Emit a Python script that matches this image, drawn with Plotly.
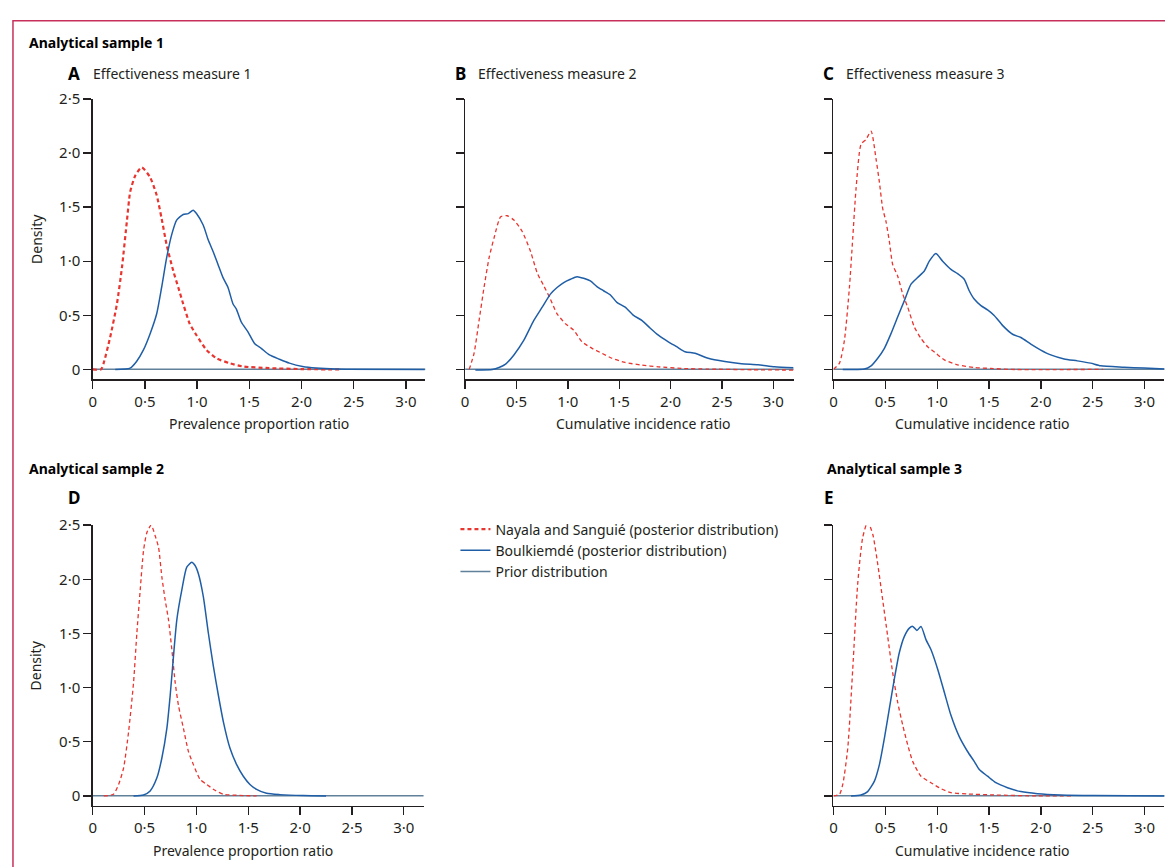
import plotly.graph_objects as go

# ---------------- data ----------------
tick_vals_x = [0, 0.5, 1.0, 1.5, 2.0, 2.5, 3.0]
tick_text_x = ["0", "0·5", "1·0", "1·5", "2·0", "2·5", "3·0"]
tick_vals_y = [0, 0.5, 1.0, 1.5, 2.0, 2.5]
tick_text_y = ["0", "0·5", "1·0", "1·5", "2·0", "2·5"]

series_names = ["Nayala and Sanguié (posterior distribution)",
                "Boulkiemdé (posterior distribution)",
                "Prior distribution"]

# Panel A – effectiveness measure 1 (prevalence proportion ratio)
a_red_x = [0.0, 0.08, 0.105, 0.168, 0.232, 0.28, 0.327, 0.359, 0.407, 0.47, 0.55, 0.613, 0.66, 0.708,
           0.772, 0.82, 0.867, 0.93, 0.994, 1.09, 1.185, 1.31, 1.44, 1.69, 2.01, 2.36]
a_red_y = [0.0, 0.0, 0.058, 0.30, 0.605, 0.94, 1.365, 1.64, 1.79, 1.867, 1.775, 1.61, 1.395, 1.152,
           0.909, 0.757, 0.605, 0.42, 0.316, 0.18, 0.103, 0.058, 0.027, 0.012, 0.003, 0.0]
a_blue_x = [0.216, 0.359, 0.42, 0.486, 0.55, 0.613, 0.66, 0.708, 0.756, 0.804, 0.867, 0.915, 0.962,
            0.994, 1.058, 1.106, 1.153, 1.2, 1.248, 1.296, 1.344, 1.375, 1.423, 1.487, 1.55, 1.614,
            1.693, 1.789, 1.884, 2.01, 2.14, 2.33, 3.18]
a_blue_y = [0.0, 0.012, 0.073, 0.18, 0.33, 0.514, 0.757, 1.03, 1.243, 1.38, 1.432, 1.44, 1.471,
            1.44, 1.334, 1.198, 1.09, 0.97, 0.848, 0.757, 0.605, 0.56, 0.438, 0.347, 0.24, 0.195,
            0.134, 0.094, 0.058, 0.027, 0.012, 0.003, 0.0]

# Panel B – effectiveness measure 2 (cumulative incidence ratio)
b_red_x = [0.04, 0.087, 0.136, 0.184, 0.233, 0.281, 0.346, 0.41, 0.475, 0.556, 0.637, 0.701, 0.766,
           0.83, 0.895, 0.976, 1.057, 1.138, 1.235, 1.332, 1.429, 1.558, 1.72, 1.881, 2.107, 2.366,
           2.8, 3.197]
b_red_y = [0.0, 0.149, 0.453, 0.757, 1.03, 1.213, 1.41, 1.42, 1.38, 1.274, 1.09, 0.894, 0.772,
           0.65, 0.514, 0.423, 0.362, 0.255, 0.195, 0.149, 0.103, 0.064, 0.04, 0.024, 0.009, 0.003,
           -0.003, -0.006]
b_blue_x = [0.1, 0.265, 0.33, 0.394, 0.475, 0.572, 0.669, 0.75, 0.83, 0.895, 0.96, 1.025, 1.089,
            1.154, 1.219, 1.283, 1.348, 1.412, 1.477, 1.558, 1.639, 1.72, 1.8, 1.881, 1.978, 2.059,
            2.14, 2.237, 2.366, 2.528, 2.689, 2.851, 3.012, 3.197]
b_blue_y = [-0.005, 0.0, 0.018, 0.049, 0.134, 0.27, 0.453, 0.575, 0.696, 0.757, 0.803, 0.833, 0.857,
            0.842, 0.818, 0.766, 0.727, 0.69, 0.62, 0.575, 0.499, 0.453, 0.383, 0.316, 0.255, 0.21,
            0.164, 0.149, 0.103, 0.073, 0.052, 0.043, 0.024, 0.015]

# Panel C – effectiveness measure 3 (cumulative incidence ratio)
c_red_x = [0.0, 0.058, 0.106, 0.154, 0.186, 0.218, 0.266, 0.315, 0.363, 0.411, 0.443, 0.475, 0.507,
           0.539, 0.571, 0.619, 0.668, 0.716, 0.78, 0.844, 0.908, 0.988, 1.069, 1.197, 1.357, 1.518,
           1.71, 2.6]
c_red_y = [0.0, 0.058, 0.27, 0.757, 1.213, 1.67, 2.08, 2.126, 2.202, 1.943, 1.73, 1.487, 1.365,
           1.183, 0.97, 0.864, 0.696, 0.575, 0.392, 0.286, 0.21, 0.149, 0.088, 0.043, 0.018, 0.009,
           0.0, 0.0]
c_blue_x = [0.09, 0.298, 0.363, 0.427, 0.491, 0.555, 0.619, 0.684, 0.748, 0.812, 0.876, 0.924, 0.988,
            1.053, 1.133, 1.197, 1.261, 1.309, 1.357, 1.422, 1.486, 1.55, 1.63, 1.727, 1.807, 1.903,
            1.999, 2.095, 2.224, 2.352, 2.48, 2.577, 2.802, 2.994, 3.196]
c_blue_y = [0.0, 0.003, 0.033, 0.103, 0.195, 0.331, 0.484, 0.636, 0.788, 0.849, 0.909, 1.0, 1.07,
            1.0, 0.924, 0.885, 0.833, 0.727, 0.65, 0.59, 0.55, 0.499, 0.407, 0.325, 0.295, 0.234,
            0.179, 0.134, 0.097, 0.079, 0.058, 0.033, 0.021, 0.012, 0.003]

# Panel D – analytical sample 2 (prevalence proportion ratio)
d_red_x = [0.106, 0.2, 0.25, 0.298, 0.346, 0.394, 0.426, 0.458, 0.49, 0.522, 0.564, 0.603, 0.635,
           0.667, 0.699, 0.731, 0.763, 0.795, 0.827, 0.875, 0.923, 0.971, 1.035, 1.099, 1.179, 1.26,
           1.388, 1.58]
d_red_y = [0.0, 0.015, 0.106, 0.258, 0.592, 1.048, 1.504, 1.899, 2.263, 2.43, 2.5, 2.4, 2.294,
           2.02, 1.808, 1.625, 1.352, 1.048, 0.835, 0.623, 0.41, 0.289, 0.152, 0.106, 0.052, 0.015,
           0.006, 0.0]
d_blue_x = [0.394, 0.49, 0.554, 0.619, 0.667, 0.715, 0.747, 0.779, 0.811, 0.859, 0.907, 0.955, 0.987,
            1.019, 1.067, 1.115, 1.163, 1.212, 1.26, 1.324, 1.388, 1.452, 1.516, 1.58, 1.676, 1.804,
            2.029, 2.25]
d_blue_y = [0.0, 0.009, 0.046, 0.167, 0.35, 0.623, 0.927, 1.291, 1.625, 1.899, 2.111, 2.157, 2.127,
            2.051, 1.838, 1.504, 1.2, 0.927, 0.684, 0.44, 0.289, 0.182, 0.106, 0.061, 0.024, 0.012,
            0.003, 0.0]

# Panel E – analytical sample 3 (cumulative incidence ratio)
e_red_x = [0.0, 0.058, 0.09, 0.138, 0.186, 0.234, 0.282, 0.33, 0.379, 0.427, 0.475, 0.523, 0.571,
           0.619, 0.668, 0.716, 0.764, 0.844, 0.94, 1.037, 1.133, 1.293, 1.55, 1.967, 2.29]
e_red_y = [0.0, 0.015, 0.106, 0.44, 1.17, 1.96, 2.385, 2.53, 2.415, 2.14, 1.808, 1.473, 1.139,
           0.866, 0.653, 0.471, 0.319, 0.182, 0.122, 0.067, 0.03, 0.018, 0.009, 0.0, 0.0]
e_blue_x = [0.17, 0.266, 0.33, 0.395, 0.443, 0.491, 0.539, 0.587, 0.635, 0.684, 0.732, 0.764, 0.805,
            0.844, 0.892, 0.94, 1.005, 1.069, 1.133, 1.213, 1.293, 1.357, 1.406, 1.486, 1.566, 1.678,
            1.807, 1.967, 2.192, 2.513, 3.196]
e_blue_y = [0.0, 0.009, 0.04, 0.137, 0.289, 0.532, 0.805, 1.079, 1.322, 1.473, 1.549, 1.565, 1.528,
            1.565, 1.443, 1.352, 1.17, 0.957, 0.744, 0.547, 0.41, 0.319, 0.243, 0.182, 0.122, 0.076,
            0.04, 0.021, 0.009, 0.003, 0.0]

# Prior distribution (essentially flat near zero on this scale)
prior_x = [0.0, 0.5, 1.0, 1.5, 2.0, 2.5, 3.0, 3.2]
prior_y = [0.002, 0.002, 0.002, 0.002, 0.002, 0.002, 0.002, 0.002]

panel_letters = ["A", "B", "C", "D", "E"]
panel_titles = ["Effectiveness measure 1", "Effectiveness measure 2", "Effectiveness measure 3", "", ""]
x_titles = ["Prevalence proportion ratio", "Cumulative incidence ratio", "Cumulative incidence ratio",
            "Prevalence proportion ratio", "Cumulative incidence ratio"]
section_titles = ["Analytical sample 1", "Analytical sample 2", "Analytical sample 3"]

# ---------------- styling / layout ----------------
W, H = 1165, 867
FONT = "Noto Sans"
RED = "#e8352f"
BLUE = "#1f5ea6"
PRIOR = "#61809a"
AXC = "#231f20"

def px(x):
    return x / W

def py(y):
    return 1 - y / H

# (left px, right px, top px, bottom px, x max)
panels = [
    (89.0, 422.7, 89.0, 373.0, 3.185),
    (462.7, 792.3, 89.0, 373.0, 3.197),
    (832.3, 1164.3, 89.0, 373.0, 3.19),
    (89.0, 421.0, 520.7, 805.0, 3.19),
    (832.3, 1164.3, 520.7, 805.0, 3.19),
]
data = [
    (a_red_x, a_red_y, a_blue_x, a_blue_y),
    (b_red_x, b_red_y, b_blue_x, b_blue_y),
    (c_red_x, c_red_y, c_blue_x, c_blue_y),
    (d_red_x, d_red_y, d_blue_x, d_blue_y),
    (e_red_x, e_red_y, e_blue_x, e_blue_y),
]
red_widths = [2.2, 1.3, 1.3, 1.3, 1.3]
# (letter x, title x, y) in pixels
label_pos = [(64, 89, 63), (453, 476, 63), (822, 845, 63), (64, 0, 493), (823, 0, 493)]

fig = go.Figure()
layout = dict(
    width=W, height=H,
    margin=dict(l=0, r=0, t=0, b=0),
    paper_bgcolor="white", plot_bgcolor="white",
    font=dict(family=FONT, size=14, color=AXC),
    showlegend=True,
    legend=dict(x=px(453), y=py(509), xanchor="left", yanchor="top",
                bgcolor="rgba(0,0,0,0)", font=dict(size=14, family=FONT, color=AXC),
                tracegroupgap=0, itemwidth=30),
)

def note(x, y, text, size=14, color=AXC, xanchor="left", angle=0):
    return dict(x=px(x), y=py(y), xref="paper", yref="paper", xanchor=xanchor, yanchor="middle",
                text=text, showarrow=False, borderpad=0, borderwidth=0, textangle=angle,
                font=dict(size=size, family=FONT, color=color))

annotations = []
for i, ((l, r, t, b, xmax), (rx, ry, bx, by)) in enumerate(zip(panels, data)):
    k = "" if i == 0 else str(i + 1)
    xa, ya = "x" + k, "y" + k
    first = i == 0
    fig.add_trace(go.Scatter(x=prior_x, y=prior_y, xaxis=xa, yaxis=ya, mode="lines",
                             line=dict(color=PRIOR, width=1.5), name=series_names[2],
                             legendrank=3, showlegend=first, hoverinfo="skip"))
    fig.add_trace(go.Scatter(x=rx, y=ry, xaxis=xa, yaxis=ya, mode="lines",
                             line=dict(color=RED, width=red_widths[i], dash="4px,3px",
                                       shape="spline", smoothing=0.6),
                             name=series_names[0], legendrank=1, showlegend=first, hoverinfo="skip"))
    fig.add_trace(go.Scatter(x=bx, y=by, xaxis=xa, yaxis=ya, mode="lines",
                             line=dict(color=BLUE, width=1.5, shape="spline", smoothing=0.6),
                             name=series_names[1], legendrank=2, showlegend=first, hoverinfo="skip"))
    show_ylab = i in (0, 3)
    layout["xaxis" + k] = dict(
        domain=[px(l), px(r)], anchor=ya, range=[0, xmax],
        showline=True, linecolor=AXC, linewidth=1.4, mirror=False,
        ticks="outside", ticklen=8, tickwidth=1.3, tickcolor=AXC,
        tickvals=tick_vals_x, ticktext=tick_text_x, tickfont=dict(size=15, color=AXC),
        showgrid=False, zeroline=False, fixedrange=True,
    )
    layout["yaxis" + k] = dict(
        domain=[py(b), py(t)], anchor=xa, range=[-0.091, 2.5],
        showline=True, linecolor=AXC, linewidth=1.4,
        ticks="outside", ticklen=8, tickwidth=1.3, tickcolor=AXC,
        tickvals=tick_vals_y, ticktext=tick_text_y if show_ylab else [""] * 6,
        showticklabels=show_ylab, tickfont=dict(size=15, color=AXC),
        showgrid=False, zeroline=False, fixedrange=True,
    )
    lx, tx, ly = label_pos[i]
    annotations.append(note(lx, ly, "<b>" + panel_letters[i] + "</b>", size=17, color="#000"))
    if panel_titles[i]:
        annotations.append(note(tx, ly, panel_titles[i]))

# x-axis titles (centres)
xt_pos = [(256, 418), (642, 418), (982, 418), (240, 850), (982, 850)]
for (cx, cy), txt in zip(xt_pos, x_titles):
    annotations.append(note(cx, cy, txt, xanchor="center"))
# y-axis titles
for cy in (231, 663):
    annotations.append(note(32, cy, "Density", xanchor="center", angle=-90))
# section titles
for (sx, sy), txt in zip([(25, 32), (25, 463), (826, 463)], section_titles):
    annotations.append(note(sx, sy, "<b>" + txt + "</b>", color="#000"))

layout["annotations"] = annotations
layout["shapes"] = [dict(type="rect", xref="paper", yref="paper", x0=px(9), x1=1.05, y0=-0.05,
                         y1=py(10), line=dict(color="#c8305c", width=1.5), fillcolor="rgba(0,0,0,0)")]
fig.update_layout(**layout)
fig.write_html(
    "out.html",
    config={"displayModeBar": False, "staticPlot": True},
    post_script="document.body.style.margin='0';document.body.style.padding='0';"
                "document.body.style.overflow='hidden';document.documentElement.style.overflow='hidden';",
)
